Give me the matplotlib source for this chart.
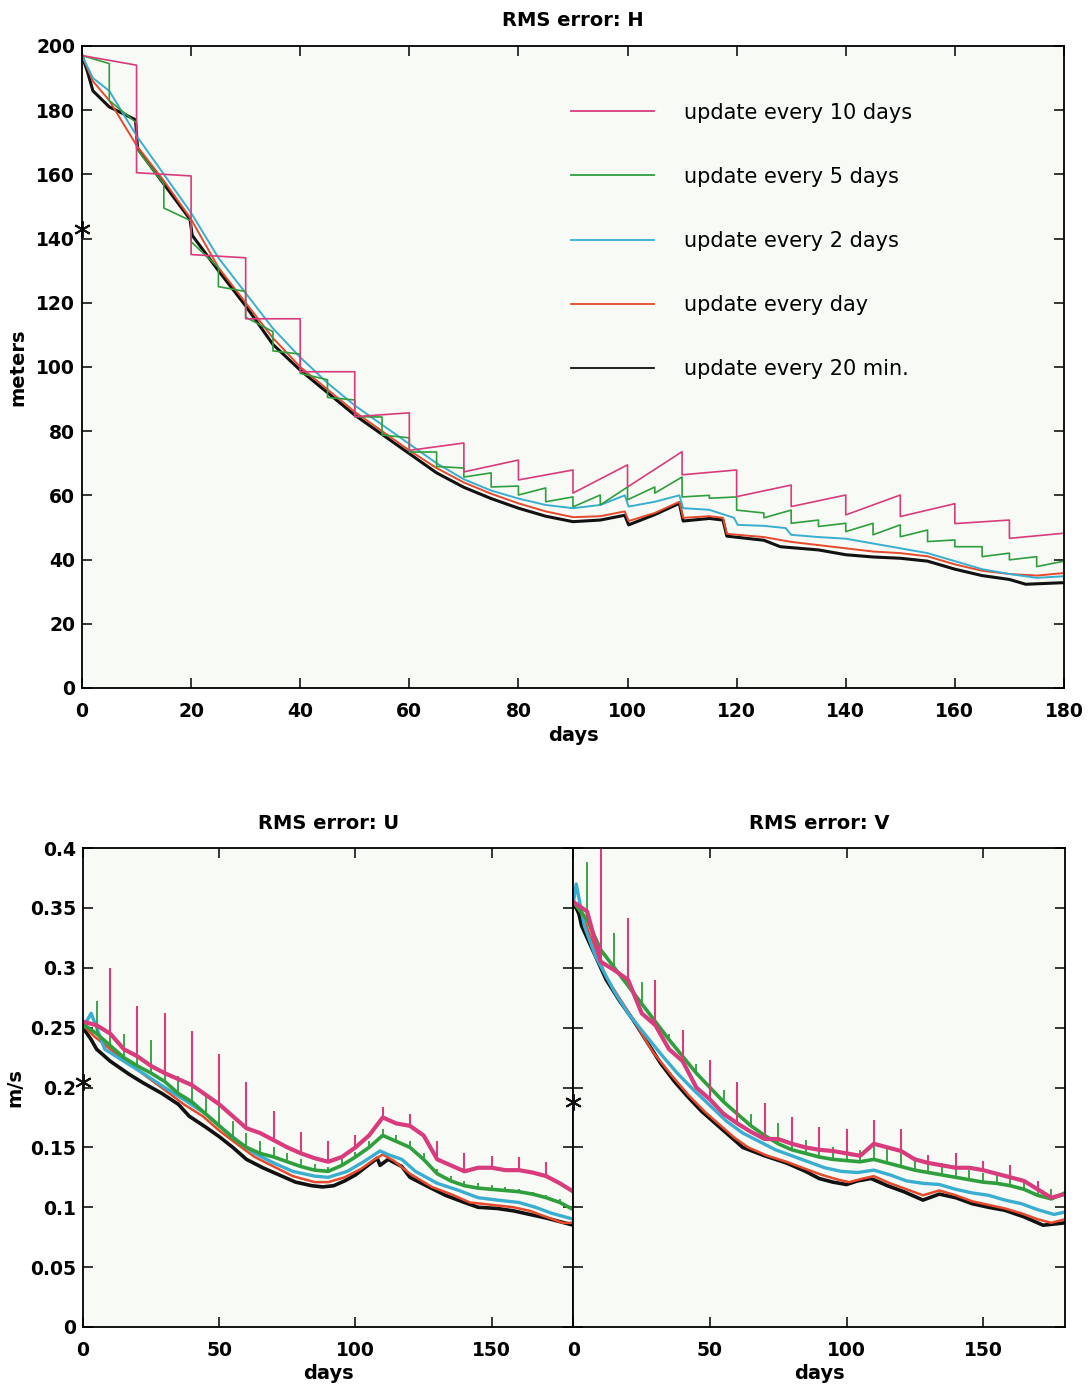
import matplotlib
matplotlib.use('Agg')
import matplotlib.pyplot as plt
import numpy as np

# ---------------- H panel (meters) ----------------
h_black_days = [0, 1, 2, 5, 9.8, 10.2, 15, 19.8, 20.2, 25, 30, 35, 40, 45, 50, 55, 60, 65, 70, 75,
                80, 85, 90, 95, 99.5, 100.2, 105, 109.5, 110.2, 115, 117.5, 118.2, 125, 128, 135,
                140, 145, 150, 155, 160, 165, 170, 173, 180]
h_black = [197, 192, 186, 181, 177, 168, 157, 146, 141, 130, 119, 107, 99, 92, 85, 79, 73, 67, 62.5, 59,
           56, 53.5, 51.8, 52.3, 53.8, 50.8, 54, 57.5, 52, 52.8, 52.3, 47.3, 46, 44, 43,
           41.5, 40.8, 40.4, 39.5, 37, 35, 33.8, 32.3, 32.8]

h_red_days = [0, 2, 5, 10, 15, 20, 25, 30, 35, 40, 45, 50, 55, 60, 65, 70, 75, 80, 85, 90, 95, 99.5,
              100.2, 105, 109.5, 110.2, 115, 117.5, 118.2, 125, 130, 135, 140, 145, 150, 155, 160,
              165, 170, 175, 180]
h_red = [197, 189, 183, 169, 158, 146, 131, 120, 109, 100, 93, 86, 80, 74, 68.5, 64, 60.5, 57.5, 55, 53.2,
         53.5, 55, 52, 54.5, 58, 53, 53.5, 53, 48, 47, 45.5, 44.5, 43.5, 42.5, 42, 41, 38.5,
         36.5, 35.5, 35, 35.8]

h_cyan_days = [0, 2, 5, 10, 15, 20, 25, 30, 35, 40, 45, 50, 55, 60, 65, 70, 75, 80, 85, 90, 95, 99.5,
               100.2, 105, 109.5, 110.2, 115, 119.5, 120.2, 125, 129, 130, 135, 140, 145, 150, 155,
               160, 165, 170, 175, 180]
h_cyan = [197, 190, 186, 172, 160, 148, 134, 123, 112, 103, 95, 88, 82, 76, 70, 65, 61.5, 59, 57, 56, 57, 60,
          56.5, 58, 60, 56, 55.5, 53, 50.8, 50.5, 49.8, 47.7, 47, 46.5, 45, 43.5, 42,
          39.5, 37, 35.5, 34.3, 34.8]

# update every 5 days: value just before / just after each update
h_green_start, h_green_end = 197, 39.5
h_green_upd = [5, 10, 15, 20, 25, 30, 35, 40, 45, 50, 55, 60, 65, 70, 75, 80, 85, 90, 95, 100, 105,
               110, 115, 120, 125, 130, 135, 140, 145, 150, 155, 160, 165, 170, 175]
h_green_before = [194.5, 176, 157, 145.5, 131, 123.5, 111, 104, 96, 89.7, 84.4, 77.9, 73.5, 68.5, 67,
                  62.9, 62.3, 59.5, 60.1, 62.6, 62.6, 65.7, 60, 59.5, 54.5, 55.4, 52.3, 51.3,
                  51.3, 50.8, 49.2, 46.1, 44, 42, 40.9]
h_green_after = [183, 168, 149.5, 139, 125, 115.5, 105, 98, 90.5, 84.5, 78.8, 73.5, 69, 65.7, 62.6,
                 60.1, 58, 56.4, 57, 58.6, 60.7, 59.5, 59.1, 55.4, 53, 51.3, 50.3, 48.7,
                 47.7, 47.1, 45.6, 44, 40.9, 39.9, 37.8]

# update every 10 days
h_pink_start, h_pink_end = 197, 48.2
h_pink_upd = [10, 20, 30, 40, 50, 60, 70, 80, 90, 100, 110, 120, 130, 140, 150, 160, 170]
h_pink_before = [194, 159.5, 134, 115, 98.5, 85.7, 76.3, 71, 67.9, 69.5, 73.6, 67.9, 63.2, 60.1,
                 60.1, 57.4, 52.3]
h_pink_after = [160.5, 135, 115, 98.5, 84.5, 74, 67.3, 64.8, 60.7, 62.6, 66.4, 59.6, 56.5, 53.9,
                53.4, 51.2, 46.6]

h_star = 143

# ---------------- U panel (m/s) ----------------
u_black_days = [0, 3, 5, 10, 17, 22, 29, 35, 39, 45, 50, 55, 60, 66, 72, 78, 84, 88, 92, 96, 100, 104,
                108, 109, 112, 117, 120, 126, 133, 140, 145, 152, 158, 164, 170, 175, 180]
u_black = [0.25, 0.24, 0.232, 0.222, 0.211, 0.204, 0.195, 0.186, 0.176, 0.167, 0.159, 0.150, 0.140,
           0.133, 0.127, 0.121, 0.118, 0.117, 0.118, 0.122, 0.127, 0.134, 0.141, 0.135, 0.140,
           0.134, 0.125, 0.118, 0.110, 0.104, 0.100, 0.099, 0.097, 0.094, 0.091, 0.088, 0.085]

u_red_days = [0, 4, 10, 17, 24, 30, 37, 44, 50, 57, 63, 70, 77, 85, 90, 96, 102, 107, 110, 114, 120,
              128, 135, 142, 150, 158, 164, 170, 176, 180]
u_red = [0.252, 0.243, 0.232, 0.22, 0.208, 0.198, 0.186, 0.176, 0.164, 0.152, 0.142, 0.134, 0.126,
         0.121, 0.121, 0.125, 0.132, 0.14, 0.144, 0.139, 0.128, 0.117, 0.111, 0.104, 0.102, 0.1,
         0.097, 0.092, 0.087, 0.087]

u_cyan_days = [0, 3, 8, 15, 22, 30, 37, 45, 50, 57, 63, 70, 77, 85, 90, 97, 103, 109, 112, 117, 122,
               130, 138, 145, 152, 160, 166, 172, 180]
u_cyan = [0.25, 0.262, 0.232, 0.222, 0.212, 0.2, 0.19, 0.178, 0.168, 0.155, 0.145, 0.137, 0.13, 0.126,
          0.125, 0.13, 0.138, 0.147, 0.144, 0.14, 0.13, 0.12, 0.114, 0.108, 0.106, 0.104, 0.1,
          0.095, 0.09]

uv_days5 = [0, 5, 10, 15, 20, 25, 30, 35, 40, 45, 50, 55, 60, 65, 70, 75, 80, 85, 90, 95, 100, 105,
            110, 115, 120, 125, 130, 135, 140, 145, 150, 155, 160, 165, 170, 175, 180]
u_green = [0.253, 0.245, 0.235, 0.225, 0.218, 0.212, 0.205, 0.195, 0.188, 0.178, 0.168, 0.158, 0.150,
           0.145, 0.142, 0.138, 0.134, 0.131, 0.130, 0.135, 0.142, 0.150, 0.160, 0.155, 0.150,
           0.140, 0.128, 0.122, 0.118, 0.116, 0.115, 0.114, 0.113, 0.111, 0.108, 0.104, 0.098]
u_pink = [0.255, 0.252, 0.245, 0.232, 0.226, 0.218, 0.212, 0.207, 0.202, 0.194, 0.186, 0.176, 0.166,
          0.162, 0.156, 0.150, 0.145, 0.141, 0.138, 0.142, 0.150, 0.160, 0.175, 0.170, 0.168,
          0.160, 0.140, 0.135, 0.130, 0.133, 0.133, 0.131, 0.131, 0.129, 0.126, 0.120, 0.113]

green_spike_days = [5, 10, 15, 20, 25, 30, 35, 40, 45, 50, 55, 60, 65, 70, 75, 80, 85, 90, 95, 100,
                    105, 110, 115, 120, 125, 130, 135, 140, 145, 150, 155, 160, 165, 170, 175]
u_green_spikes = [0.272, 0.26, 0.245, 0.235, 0.24, 0.222, 0.21, 0.207, 0.195, 0.185, 0.172, 0.162,
                  0.155, 0.15, 0.145, 0.14, 0.136, 0.134, 0.14, 0.146, 0.155, 0.165, 0.16, 0.155,
                  0.145, 0.132, 0.126, 0.122, 0.12, 0.119, 0.117, 0.115, 0.113, 0.11, 0.107]
pink_spike_days = [10, 20, 30, 40, 50, 60, 70, 80, 90, 100, 110, 120, 130, 140, 150, 160, 170]
u_pink_spikes = [0.300, 0.268, 0.262, 0.247, 0.228, 0.205, 0.18, 0.163, 0.155, 0.16, 0.184, 0.178,
                 0.155, 0.145, 0.143, 0.142, 0.138]
u_star = 0.205

# ---------------- V panel (m/s) ----------------
v_black_days = [0, 2, 3, 6, 12, 17, 22, 27, 32, 37, 42, 47, 52, 57, 62, 70, 78, 85, 90, 95, 100, 104,
                109, 115, 121, 128, 134, 140, 146, 152, 158, 165, 172, 180]
v_black = [0.355, 0.345, 0.335, 0.32, 0.29, 0.272, 0.256, 0.238, 0.22, 0.205, 0.192, 0.18, 0.17, 0.16,
           0.15, 0.143, 0.137, 0.130, 0.124, 0.121, 0.119, 0.122, 0.124, 0.118, 0.113, 0.106,
           0.111, 0.108, 0.103, 0.100, 0.0975, 0.092, 0.085, 0.087]

v_red_days = [0, 3, 7, 12, 21, 29, 36, 42, 48, 53, 59, 64, 71, 78, 85, 91, 97, 101, 106, 110, 116,
              122, 128, 134, 140, 146, 152, 158, 164, 170, 175, 180]
v_red = [0.355, 0.345, 0.322, 0.292, 0.26, 0.23, 0.21, 0.194, 0.18, 0.17, 0.158, 0.15, 0.143, 0.138,
         0.132, 0.127, 0.123, 0.121, 0.124, 0.126, 0.12, 0.115, 0.11, 0.114, 0.11, 0.105, 0.102,
         0.099, 0.095, 0.09, 0.087, 0.09]

v_cyan_days = [0, 1, 4, 8, 15, 20, 26, 32, 38, 44, 50, 56, 62, 68, 74, 80, 86, 92, 98, 104, 110, 116,
               122, 128, 134, 140, 146, 152, 158, 164, 170, 176, 180]
v_cyan = [0.355, 0.37, 0.335, 0.31, 0.28, 0.262, 0.245, 0.228, 0.212, 0.198, 0.185, 0.172, 0.162,
          0.155, 0.148, 0.143, 0.138, 0.133, 0.13, 0.129, 0.131, 0.127, 0.122, 0.12, 0.119, 0.115,
          0.112, 0.11, 0.106, 0.103, 0.098, 0.094, 0.096]

v_green = [0.355, 0.34, 0.315, 0.3, 0.285, 0.27, 0.255, 0.24, 0.226, 0.212, 0.2, 0.188, 0.178, 0.168,
           0.16, 0.153, 0.148, 0.145, 0.142, 0.14, 0.139, 0.138, 0.14, 0.137, 0.134, 0.131, 0.129,
           0.127, 0.125, 0.123, 0.121, 0.12, 0.118, 0.115, 0.11, 0.107, 0.112]
v_pink = [0.355, 0.347, 0.305, 0.298, 0.29, 0.262, 0.252, 0.232, 0.222, 0.2, 0.19, 0.178, 0.17, 0.163,
          0.157, 0.157, 0.153, 0.150, 0.148, 0.147, 0.145, 0.143, 0.153, 0.150, 0.147, 0.140,
          0.137, 0.135, 0.133, 0.133, 0.131, 0.128, 0.125, 0.122, 0.115, 0.108, 0.111]
v_green_spikes = [0.388, 0.33, 0.329, 0.3, 0.288, 0.27, 0.245, 0.235, 0.22, 0.205, 0.198, 0.185, 0.178,
                  0.17, 0.17, 0.16, 0.156, 0.153, 0.15, 0.15, 0.148, 0.152, 0.15, 0.145, 0.142,
                  0.138, 0.137, 0.133, 0.131, 0.129, 0.127, 0.125, 0.122, 0.118, 0.115]
v_pink_spikes = [0.40, 0.342, 0.29, 0.248, 0.223, 0.205, 0.187, 0.175, 0.167, 0.165, 0.173, 0.165,
                 0.144, 0.145, 0.139, 0.135, 0.122]
v_star = 0.188

labels = ['update every 10 days', 'update every 5 days', 'update every 2 days',
          'update every day', 'update every 20 min.']
h_yticks = [0, 20, 40, 60, 80, 100, 120, 140, 160, 180, 200]
h_xticks = [0, 20, 40, 60, 80, 100, 120, 140, 160, 180]
uv_xticks = [0, 50, 100, 150]
uv_yticks = [0, 0.05, 0.1, 0.15, 0.2, 0.25, 0.3, 0.35, 0.4]
uv_yticklabels = ['0', '0.05', '0.1', '0.15', '0.2', '0.25', '0.3', '0.35', '0.4']

PINK = '#d83c7c'
GREEN = '#2f9e3c'
CYAN = '#3aaed0'
RED = '#e6492c'
BLACK = '#111111'
BG = '#f7faf5'

plt.rcParams['font.family'] = ['DejaVu Sans']


def sawtooth(upd, before, after, start, end):
    xs, ys = [0], [start]
    for d, b, a in zip(upd, before, after):
        xs += [d, d]
        ys += [b, a]
    xs.append(180)
    ys.append(end)
    return xs, ys


def style_axis(ax):
    ax.set_facecolor(BG)
    ax.tick_params(direction='in', top=True, right=True, length=7, width=1.1,
                   labelsize=13.5, pad=5, colors='black')
    ax.tick_params(axis='x', pad=10)
    for lab in ax.get_xticklabels() + ax.get_yticklabels():
        lab.set_fontweight('bold')
    for sp in ax.spines.values():
        sp.set_linewidth(1.3)
        sp.set_color('black')


fig = plt.figure(figsize=(10.89, 13.87), dpi=100)
ax_h = fig.add_axes([0.0753, 0.504, 0.9017, 0.4629])
ax_u = fig.add_axes([0.0762, 0.04326, 0.4504, 0.3453])
ax_v = fig.add_axes([0.5266, 0.04326, 0.4513, 0.3453])

# H panel
l_black, = ax_h.plot(h_black_days, h_black, color=BLACK, lw=2.2)
l_red, = ax_h.plot(h_red_days, h_red, color=RED, lw=1.4)
l_cyan, = ax_h.plot(h_cyan_days, h_cyan, color=CYAN, lw=1.4)
gx, gy = sawtooth(h_green_upd, h_green_before, h_green_after, h_green_start, h_green_end)
l_green, = ax_h.plot(gx, gy, color=GREEN, lw=1.2)
px, py = sawtooth(h_pink_upd, h_pink_before, h_pink_after, h_pink_start, h_pink_end)
l_pink, = ax_h.plot(px, py, color=PINK, lw=1.2)
ax_h.plot([0], [h_star], marker=(6, 2, 0), color=BLACK, ms=12, mew=1.4, clip_on=False)

ax_h.set_xlim(0, 180)
ax_h.set_ylim(0, 200)
ax_h.set_xticks(h_xticks)
ax_h.set_yticks(h_yticks)
style_axis(ax_h)
ax_h.set_title('RMS error: H', fontsize=14, fontweight='bold', pad=14.5)
ax_h.set_xlabel('days', fontsize=14, fontweight='bold', labelpad=4)
ax_h.set_ylabel('meters', fontsize=14, fontweight='bold', labelpad=6)

leg = ax_h.legend([l_pink, l_green, l_cyan, l_red, l_black], labels, loc='upper left',
                  bbox_to_anchor=(0.479, 0.941), frameon=False, fontsize=15,
                  handlelength=4.0, handletextpad=1.4, labelspacing=2.12)
for line in leg.get_lines():
    line.set_linewidth(1.3)


def draw_uv(ax, black_days, black, red_days, red, cyan_days, cyan, green, pink,
            green_spikes, pink_spikes, star):
    ax.plot(black_days, black, color=BLACK, lw=2.6)
    ax.plot(red_days, red, color=RED, lw=1.8)
    ax.plot(cyan_days, cyan, color=CYAN, lw=2.4)
    ax.plot(uv_days5, green, color=GREEN, lw=2.6)
    ax.vlines(green_spike_days, np.interp(green_spike_days, uv_days5, green), green_spikes,
              color=GREEN, lw=1.3)
    ax.plot(uv_days5, pink, color=PINK, lw=3.0)
    ax.vlines(pink_spike_days, np.interp(pink_spike_days, uv_days5, pink), pink_spikes,
              color=PINK, lw=1.5)
    ax.plot([0], [star], marker=(6, 2, 0), color=BLACK, ms=12, mew=1.4, clip_on=False, zorder=5)
    ax.set_xlim(0, 180)
    ax.set_ylim(0, 0.4)
    ax.set_xticks(uv_xticks)
    ax.set_yticks(uv_yticks)


draw_uv(ax_u, u_black_days, u_black, u_red_days, u_red, u_cyan_days, u_cyan, u_green, u_pink,
        u_green_spikes, u_pink_spikes, u_star)
ax_u.set_yticklabels(uv_yticklabels)
style_axis(ax_u)
ax_u.set_title('RMS error: U', fontsize=14, fontweight='bold', pad=14)
ax_u.set_xlabel('days', fontsize=14, fontweight='bold', labelpad=3)
ax_u.set_ylabel('m/s', fontsize=14, fontweight='bold', labelpad=4)

draw_uv(ax_v, v_black_days, v_black, v_red_days, v_red, v_cyan_days, v_cyan, v_green, v_pink,
        v_green_spikes, v_pink_spikes, v_star)
ax_v.set_yticklabels([])
style_axis(ax_v)
ax_v.set_title('RMS error: V', fontsize=14, fontweight='bold', pad=14)
ax_v.set_xlabel('days', fontsize=14, fontweight='bold', labelpad=3)

fig.savefig('out.png', dpi=100, facecolor='white')
